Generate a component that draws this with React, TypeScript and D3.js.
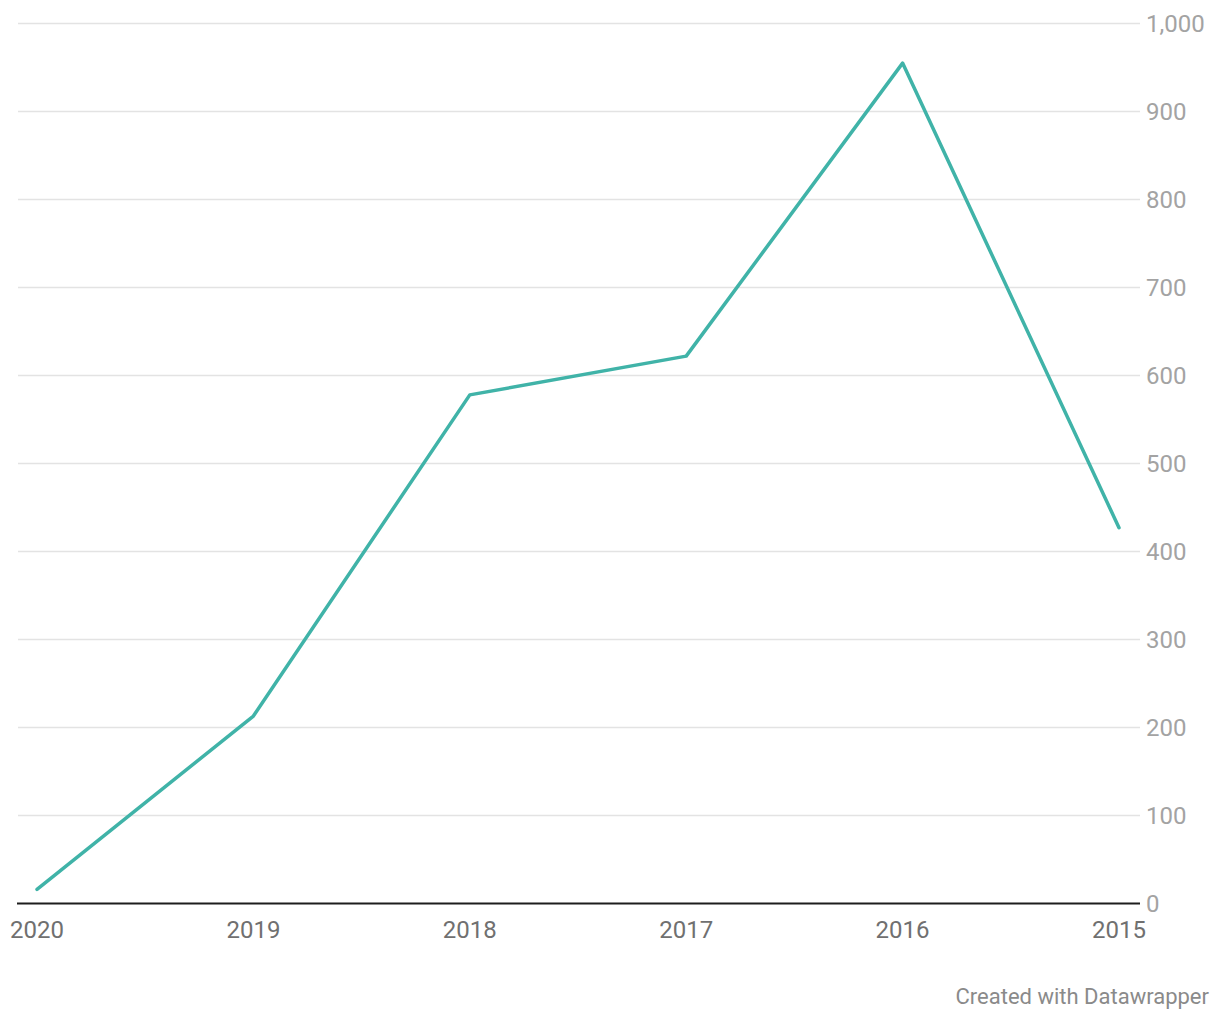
import React from "react";
import * as d3 from "d3";

const years = ["2020", "2019", "2018", "2017", "2016", "2015"];
const values = [16, 213, 578, 622, 955, 427];
const yTicks = [0, 100, 200, 300, 400, 500, 600, 700, 800, 900, 1000];

export default function App() {
  const W = 1220, H = 1020;
  const x0 = 18, x1 = 1140;
  const x = d3.scalePoint<string>().domain(years).range([37, 1119]);
  const y = d3.scaleLinear().domain([0, 1000]).range([903.5, 23.5]);
  const line = d3.line<number>().x((_, i) => x(years[i])!).y((d) => y(d));
  const fmt = d3.format(",");
  return (
    <svg width={W} height={H} style={{ position: "absolute", left: 0, top: 0, fontFamily: "Roboto, sans-serif" }}>
      <rect width={W} height={H} fill="#fff" />
      {yTicks.filter((t) => t > 0).map((t) => (
        <line key={t} x1={x0} x2={x1} y1={y(t)} y2={y(t)} stroke="#e3e3e3" strokeWidth={1.5} />
      ))}
      {yTicks.map((t) => (
        <text key={t} x={1146} y={y(t) + 8.5} fontSize={24} fill="#a3a3a3">{fmt(t)}</text>
      ))}
      <line x1={17} x2={1140} y1={y(0)} y2={y(0)} stroke="#1d1d1d" strokeWidth={2} />
      {years.map((yr) => (
        <text key={yr} x={x(yr)} y={938} fontSize={24} fill="#707070" textAnchor="middle">{yr}</text>
      ))}
      <path d={line(values)!} fill="none" stroke="#40b3a8" strokeWidth={3.5} strokeLinejoin="round" strokeLinecap="round" />
      <text x={1209} y={1004} fontSize={22} fill="#8a8a8a" textAnchor="end">Created with Datawrapper</text>
    </svg>
  );
}
